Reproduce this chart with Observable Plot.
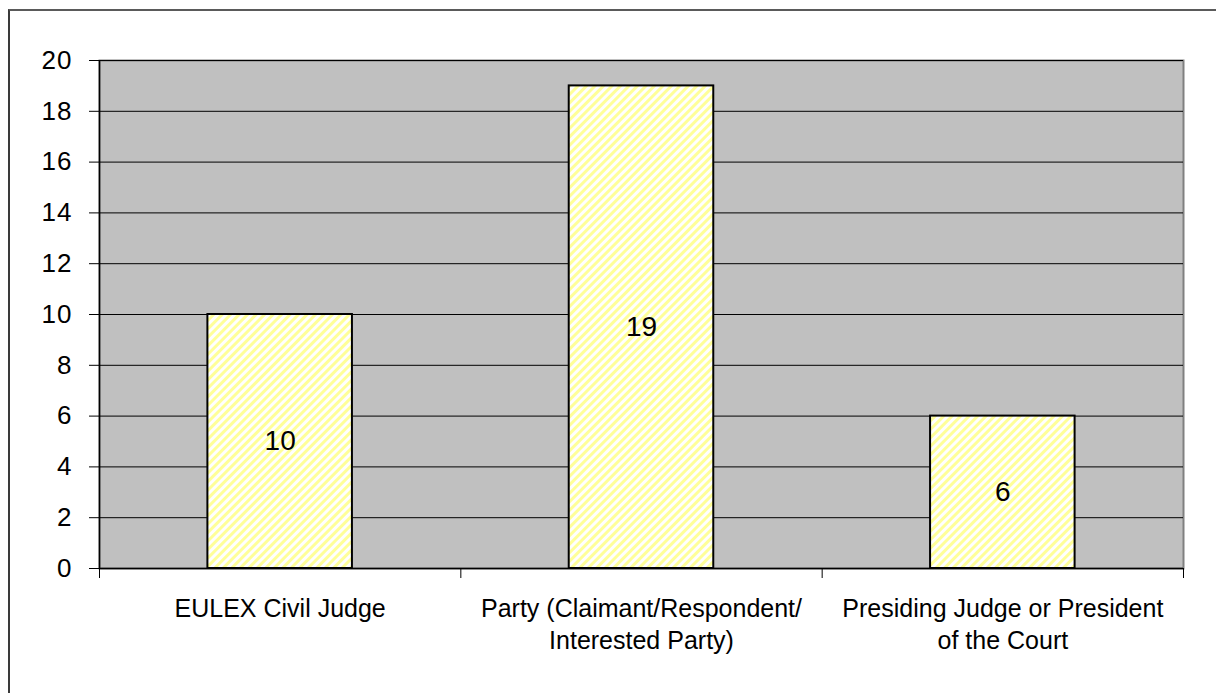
<!DOCTYPE html>
<html>
<head>
<meta charset="utf-8">
<script src="https://cdn.jsdelivr.net/npm/d3@7"></script>
<script src="https://cdn.jsdelivr.net/npm/@observablehq/plot@0.6"></script>
<style>
  html, body { margin: 0; padding: 0; background: #fff; }
  #wrap { position: relative; width: 1216px; height: 693px; overflow: hidden; }
  #wrap svg { position: absolute; left: 0; top: 0; }
  #border { position: absolute; left: 8px; top: 9px; width: 1300px; height: 800px;
            border-left: 2px solid #3a3a3a; border-top: 2px solid #5a5a5a; box-sizing: border-box; }
  .yax text { letter-spacing: 1px; }
</style>
</head>
<body>
<div id="wrap"><div id="border"></div></div>
<script>
const categories = ["EULEX Civil Judge", "Party (Claimant/Respondent/\nInterested Party)", "Presiding Judge or President\nof the Court"];
const values = [10, 19, 6];
const yTicks = [0, 2, 4, 6, 8, 10, 12, 14, 16, 18, 20];

const data = categories.map((c, i) => ({cat: c, i, value: values[i]}));
const font = "'Liberation Sans', Arial, sans-serif";

const chart = Plot.plot({
  width: 1216,
  height: 693,
  marginLeft: 99,
  marginRight: 33,
  marginTop: 60,
  marginBottom: 125,
  style: {fontFamily: font, color: "#000", background: "transparent", overflow: "visible"},
  x: {type: "linear", domain: [0, categories.length], axis: null},
  y: {domain: [0, 20], axis: null},
  marks: [
    Plot.frame({fill: "#c0c0c0", stroke: "#808080", strokeWidth: 2}),
    Plot.gridY(yTicks, {stroke: "#000", strokeOpacity: 1, strokeWidth: 1}),
    Plot.rectY(data, {x1: d => d.i + 0.3, x2: d => d.i + 0.7, y: "value", fill: "url(#hatch)", stroke: "#000", strokeWidth: 2}),
    Plot.text(data, {x: d => d.i + 0.5, y: d => d.value / 2, text: d => String(d.value), fontSize: 28, fill: "#000"}),
    Plot.ruleX([0], {stroke: "#000", strokeWidth: 1.5}),
    Plot.ruleY([0], {stroke: "#000", strokeWidth: 1.5}),
    Plot.axisY({ticks: yTicks, label: null, tickSize: 10, tickPadding: 17, fontSize: 26, stroke: "#000", strokeWidth: 1, className: "yax"}),
    Plot.axisX({ticks: d3.range(categories.length + 1), label: null, tickSize: 10, tickFormat: () => "", stroke: "#000"}),
    Plot.axisX({ticks: categories.map((c, i) => i + 0.5), label: null, tickSize: 0, tickPadding: 25,
      tickFormat: v => categories[Math.floor(v)], fontSize: 25, lineHeight: 1.3, textAnchor: "middle"})
  ]
});

// hatch pattern definition for bar fill
const ns = "http://www.w3.org/2000/svg";
const defs = document.createElementNS(ns, "defs");
const pat = document.createElementNS(ns, "pattern");
pat.setAttribute("id", "hatch");
pat.setAttribute("patternUnits", "userSpaceOnUse");
pat.setAttribute("width", "6");
pat.setAttribute("height", "6");
pat.setAttribute("patternTransform", "rotate(45)");
const bg = document.createElementNS(ns, "rect");
bg.setAttribute("width", "6"); bg.setAttribute("height", "6"); bg.setAttribute("fill", "#ffffff");
const st = document.createElementNS(ns, "rect");
st.setAttribute("width", "3"); st.setAttribute("height", "6"); st.setAttribute("fill", "#ffff99");
pat.appendChild(bg); pat.appendChild(st); defs.appendChild(pat);
chart.insertBefore(defs, chart.firstChild);

document.getElementById("wrap").appendChild(chart);
</script>
</body>
</html>
